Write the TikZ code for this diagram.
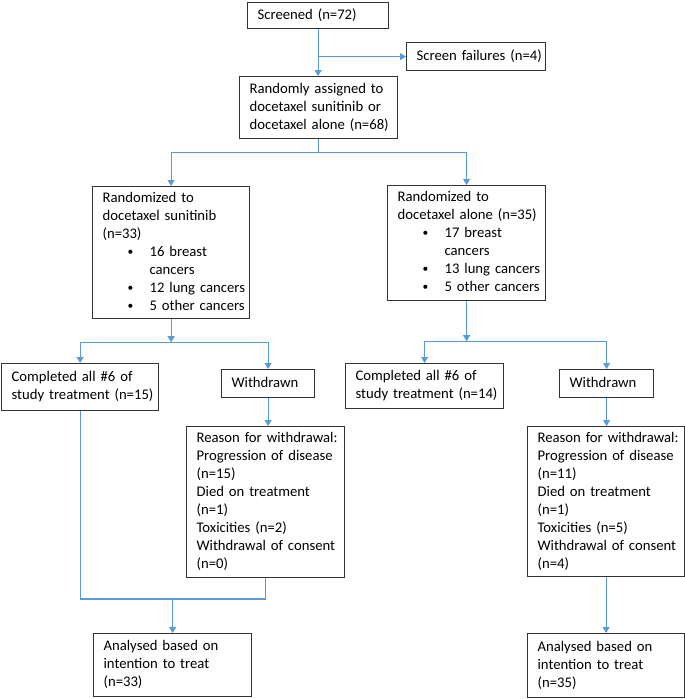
\documentclass[tikz,border=0pt]{standalone}
\usepackage{fontspec}
\setmainfont{Carlito}
\usetikzlibrary{arrows.meta,positioning,calc}

\definecolor{flowblue}{HTML}{5B9BD5}
\definecolor{boxgray}{HTML}{333333}
\newcommand{\diagfont}{\fontsize{14.7}{18}\selectfont}
% lines of a box, kept on one row each
\newcommand{\lns}[1]{\begin{tabular}{@{}l@{}}#1\end{tabular}}
% bullet and hanging indent
\newcommand{\itm}{\makebox[47pt][l]{\hspace{25pt}\raisebox{1pt}{\fontsize{11.5}{11.5}\selectfont\textbullet}}}
\newcommand{\hng}{\hspace*{47pt}}

\tikzset{
  box/.style={draw=boxgray, line width=1.2pt, anchor=north west, align=left,
              inner xsep=10pt, inner ysep=3pt, font=\diagfont},
  conn/.style={draw=flowblue, line width=1.1pt}
}

\begin{document}
\begin{tikzpicture}[x=1pt, y=-1pt, >={Triangle[length=6pt,width=7pt]}]
  \useasboundingbox (0,0) rectangle (685,699);

  % top of the flow
  \node[box, text width=121pt, minimum height=26pt] (scr) at (247,2) {\lns{Screened (n=72)}};
  \node[box, text width=119pt, minimum height=28pt] (fail) at (406,42) {\lns{Screen failures (n=4)}};
  \node[box, text width=138pt, minimum height=62pt] (rand) at (239,76)
    {\lns{Randomly assigned to\\docetaxel sunitinib or\\docetaxel alone (n=68)}};

  % the two arms
  \node[box, text width=137pt, minimum height=130pt] (rl) at (92,186)
    {\lns{Randomized to\\docetaxel sunitinib\\(n=33)\\
      \itm 16 breast\\\hng cancers\\\itm 12 lung cancers\\\itm 5 other cancers}};
  \node[box, text width=138pt, minimum height=115pt] (rr) at (387,185)
    {\lns{Randomized to\\docetaxel alone (n=35)\\
      \itm 17 breast\\\hng cancers\\\itm 13 lung cancers\\\itm 5 other cancers}};

  % completed / withdrawn
  \node[box, text width=137pt, minimum height=47pt] (cl) at (1,363)
    {\lns{Completed all \#6 of\\study treatment (n=15)}};
  \node[box, text width=73pt, minimum height=28pt] (wl) at (221,369) {\lns{Withdrawn}};
  \node[box, text width=138pt, minimum height=45pt] (cr) at (345,363)
    {\lns{Completed all \#6 of\\study treatment (n=14)}};
  \node[box, text width=74pt, minimum height=28pt] (wr) at (559,369) {\lns{Withdrawn}};

  % reasons for withdrawal
  \node[box, text width=138pt, minimum height=151pt] (rsl) at (186,426)
    {\lns{Reason for withdrawal:\\Progression of disease\\(n=15)\\Died on treatment\\(n=1)\\
      Toxicities (n=2)\\Withdrawal of consent\\(n=0)}};
  \node[box, text width=137pt, minimum height=150pt] (rsr) at (527,426)
    {\lns{Reason for withdrawal:\\Progression of disease\\(n=11)\\Died on treatment\\(n=1)\\
      Toxicities (n=5)\\Withdrawal of consent\\(n=4)}};

  % analysed
  \node[box, text width=138pt, minimum height=63pt] (al) at (93,633)
    {\lns{Analysed based on\\intention to treat\\(n=33)}};
  \node[box, text width=137pt, minimum height=64pt] (ar) at (527,633)
    {\lns{Analysed based on\\intention to treat\\(n=35)}};

  % connectors
  \draw[conn,->] (scr.south) -- (scr.south |- rand.north);
  \draw[conn,->] (scr.south |- fail.west) -- (fail.west);

  \coordinate (s1) at ($(rand.south)+(0,13)$);
  \draw[conn] (rand.south) -- (s1);
  \draw[conn,->] (s1) -| (rl.north);
  \draw[conn,->] (s1) -| (rr.north);

  \coordinate (s2) at ($(rl.south)+(0,23)$);
  \draw[conn,->] (rl.south) -- (s2);
  \draw[conn,->] (s2) -| (cl.north);
  \draw[conn,->] (s2) -| (wl.north);

  \coordinate (s3) at ($(rr.south)+(0,40)$);
  \draw[conn,->] (rr.south) -- (s3);
  \draw[conn,->] (s3) -| (cr.north);
  \draw[conn,->] (s3) -| (wr.north);

  \draw[conn,->] (wl.south) -- (wl.south |- rsl.north);
  \draw[conn,->] (wr.south) -- (wr.south |- rsr.north);

  \coordinate (m) at ($(al.north)+(0,-34)$);
  \draw[conn] (cl.south) |- (m) -| (rsl.south);
  \draw[conn,->] (m) -- (al.north);
  \draw[conn,->] (rsr.south) -- (rsr.south |- ar.north);
\end{tikzpicture}
\end{document}
